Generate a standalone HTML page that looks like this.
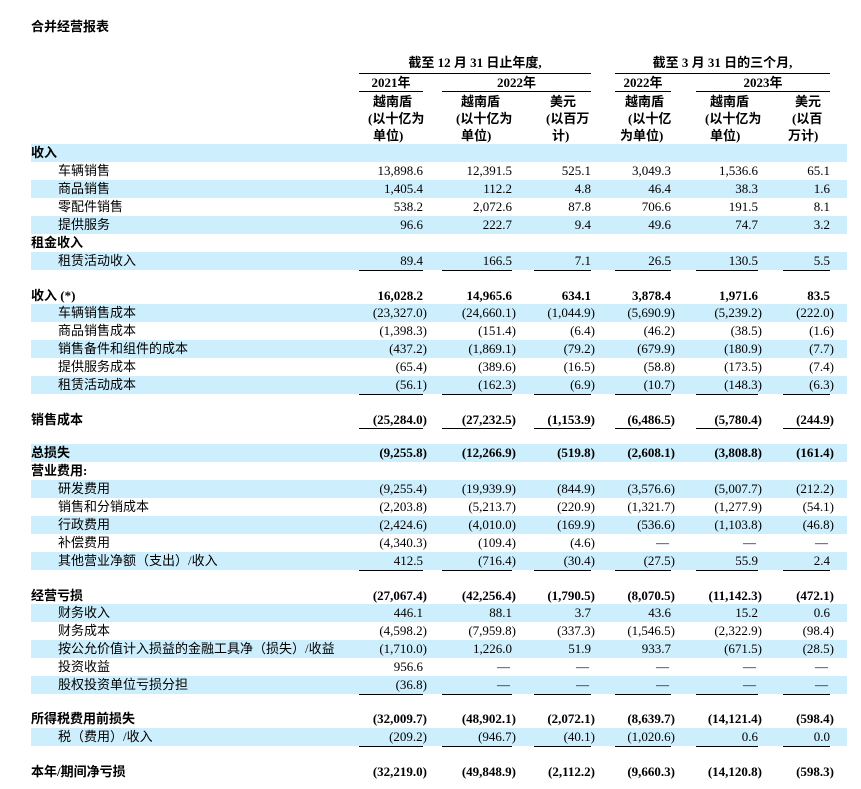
<!DOCTYPE html>
<html><head><meta charset="utf-8"><style>
body{margin:0;width:861px;height:789px;background:#fff;position:relative;overflow:hidden;font-family:"Liberation Serif","Noto Sans CJK SC",serif;font-size:13px;color:#000}
.t{position:absolute;white-space:nowrap}
.r{position:absolute;left:31px;width:816px;height:18px;line-height:18px;white-space:nowrap}
.b{background:#cdeefc}
.r span{position:absolute;top:0}
.l{left:0}.s{left:27px}
.c1{right:424px}.c2{right:335px}.c3{right:256px}.c4{right:176px}.c5{right:89px}.c6{right:17px}
.n{margin-right:-4px}
.d{margin-right:2px}
.bold{font-weight:bold}
.ln{position:absolute;height:1px;background:#000}
.h{position:absolute;font-weight:bold;white-space:nowrap;font-size:13px;line-height:17px}
</style></head><body>
<div class="t bold" style="left:31px;top:16px;font-size:13px">合并经营报表</div>

<div class="h" style="left:359px;width:232px;text-align:center;top:54px">截至 12 月 31 日止年度,</div>
<div class="h" style="left:615px;width:215px;text-align:center;top:54px">截至 3 月 31 日的三个月,</div>
<div class="ln" style="left:359px;width:232px;top:73px"></div>
<div class="ln" style="left:615px;width:215px;top:73px"></div>
<div class="h" style="left:359px;width:64px;text-align:center;top:74px">2021年</div>
<div class="h" style="left:442px;width:149px;text-align:center;top:74px">2022年</div>
<div class="h" style="left:615px;width:56px;text-align:center;top:74px">2022年</div>
<div class="h" style="left:696px;width:134px;text-align:center;top:74px">2023年</div>
<div class="ln" style="left:359px;width:64px;top:91px"></div>
<div class="ln" style="left:442px;width:149px;top:91px"></div>
<div class="ln" style="left:615px;width:56px;top:91px"></div>
<div class="ln" style="left:696px;width:134px;top:91px"></div>

<div class="h" style="left:373px;top:93px">越南盾</div>
<div class="h" style="left:368px;top:110px">(以十亿为</div>
<div class="h" style="left:373px;top:127px">单位)</div>
<div class="h" style="left:461px;top:93px">越南盾</div>
<div class="h" style="left:456px;top:110px">(以十亿为</div>
<div class="h" style="left:461px;top:127px">单位)</div>
<div class="h" style="left:550px;top:93px">美元</div>
<div class="h" style="left:546px;top:110px">(以百万</div>
<div class="h" style="left:552px;top:127px">计)</div>
<div class="h" style="left:625px;top:93px">越南盾</div>
<div class="h" style="left:628px;top:110px">(以十亿</div>
<div class="h" style="left:620px;top:127px">为单位)</div>
<div class="h" style="left:710px;top:93px">越南盾</div>
<div class="h" style="left:705px;top:110px">(以十亿为</div>
<div class="h" style="left:710px;top:127px">单位)</div>
<div class="h" style="left:795px;top:93px">美元</div>
<div class="h" style="left:792px;top:110px">(以百</div>
<div class="h" style="left:788px;top:127px">万计)</div>

<div class="r b" style="top:144px"><span class="l bold">收入</span></div>
<div class="r" style="top:162px"><span class="s">车辆销售</span><span class="c1">13,898.6</span><span class="c2">12,391.5</span><span class="c3">525.1</span><span class="c4">3,049.3</span><span class="c5">1,536.6</span><span class="c6">65.1</span></div>
<div class="r b" style="top:180px"><span class="s">商品销售</span><span class="c1">1,405.4</span><span class="c2">112.2</span><span class="c3">4.8</span><span class="c4">46.4</span><span class="c5">38.3</span><span class="c6">1.6</span></div>
<div class="r" style="top:198px"><span class="s">零配件销售</span><span class="c1">538.2</span><span class="c2">2,072.6</span><span class="c3">87.8</span><span class="c4">706.6</span><span class="c5">191.5</span><span class="c6">8.1</span></div>
<div class="r b" style="top:216px"><span class="s">提供服务</span><span class="c1">96.6</span><span class="c2">222.7</span><span class="c3">9.4</span><span class="c4">49.6</span><span class="c5">74.7</span><span class="c6">3.2</span></div>
<div class="r" style="top:234px"><span class="l bold">租金收入</span></div>
<div class="r b" style="top:252px"><span class="s">租赁活动收入</span><span class="c1">89.4</span><span class="c2">166.5</span><span class="c3">7.1</span><span class="c4">26.5</span><span class="c5">130.5</span><span class="c6">5.5</span></div>
<div class="ln" style="left:359px;width:64px;top:270px"></div><div class="ln" style="left:442px;width:70px;top:270px"></div><div class="ln" style="left:534px;width:57px;top:270px"></div><div class="ln" style="left:615px;width:56px;top:270px"></div><div class="ln" style="left:696px;width:62px;top:270px"></div><div class="ln" style="left:783px;width:47px;top:270px"></div>

<div class="r bold" style="top:287px"><span class="l">收入 (*)</span><span class="c1">16,028.2</span><span class="c2">14,965.6</span><span class="c3">634.1</span><span class="c4">3,878.4</span><span class="c5">1,971.6</span><span class="c6">83.5</span></div>
<div class="r b" style="top:304px"><span class="s">车辆销售成本</span><span class="c1 n">(23,327.0)</span><span class="c2 n">(24,660.1)</span><span class="c3 n">(1,044.9)</span><span class="c4 n">(5,690.9)</span><span class="c5 n">(5,239.2)</span><span class="c6 n">(222.0)</span></div>
<div class="r" style="top:322px"><span class="s">商品销售成本</span><span class="c1 n">(1,398.3)</span><span class="c2 n">(151.4)</span><span class="c3 n">(6.4)</span><span class="c4 n">(46.2)</span><span class="c5 n">(38.5)</span><span class="c6 n">(1.6)</span></div>
<div class="r b" style="top:340px"><span class="s">销售备件和组件的成本</span><span class="c1 n">(437.2)</span><span class="c2 n">(1,869.1)</span><span class="c3 n">(79.2)</span><span class="c4 n">(679.9)</span><span class="c5 n">(180.9)</span><span class="c6 n">(7.7)</span></div>
<div class="r" style="top:358px"><span class="s">提供服务成本</span><span class="c1 n">(65.4)</span><span class="c2 n">(389.6)</span><span class="c3 n">(16.5)</span><span class="c4 n">(58.8)</span><span class="c5 n">(173.5)</span><span class="c6 n">(7.4)</span></div>
<div class="r b" style="top:376px"><span class="s">租赁活动成本</span><span class="c1 n">(56.1)</span><span class="c2 n">(162.3)</span><span class="c3 n">(6.9)</span><span class="c4 n">(10.7)</span><span class="c5 n">(148.3)</span><span class="c6 n">(6.3)</span></div>
<div class="ln" style="left:359px;width:64px;top:394px"></div><div class="ln" style="left:442px;width:70px;top:394px"></div><div class="ln" style="left:534px;width:57px;top:394px"></div><div class="ln" style="left:615px;width:56px;top:394px"></div><div class="ln" style="left:696px;width:62px;top:394px"></div><div class="ln" style="left:783px;width:47px;top:394px"></div>

<div class="r bold" style="top:411px"><span class="l">销售成本</span><span class="c1 n">(25,284.0)</span><span class="c2 n">(27,232.5)</span><span class="c3 n">(1,153.9)</span><span class="c4 n">(6,486.5)</span><span class="c5 n">(5,780.4)</span><span class="c6 n">(244.9)</span></div>
<div class="ln" style="left:359px;width:64px;top:428px"></div><div class="ln" style="left:442px;width:70px;top:428px"></div><div class="ln" style="left:534px;width:57px;top:428px"></div><div class="ln" style="left:615px;width:56px;top:428px"></div><div class="ln" style="left:696px;width:62px;top:428px"></div><div class="ln" style="left:783px;width:47px;top:428px"></div>

<div class="r b bold" style="top:444px"><span class="l">总损失</span><span class="c1 n">(9,255.8)</span><span class="c2 n">(12,266.9)</span><span class="c3 n">(519.8)</span><span class="c4 n">(2,608.1)</span><span class="c5 n">(3,808.8)</span><span class="c6 n">(161.4)</span></div>
<div class="r" style="top:462px"><span class="l bold">营业费用:</span></div>
<div class="r b" style="top:480px"><span class="s">研发费用</span><span class="c1 n">(9,255.4)</span><span class="c2 n">(19,939.9)</span><span class="c3 n">(844.9)</span><span class="c4 n">(3,576.6)</span><span class="c5 n">(5,007.7)</span><span class="c6 n">(212.2)</span></div>
<div class="r" style="top:498px"><span class="s">销售和分销成本</span><span class="c1 n">(2,203.8)</span><span class="c2 n">(5,213.7)</span><span class="c3 n">(220.9)</span><span class="c4 n">(1,321.7)</span><span class="c5 n">(1,277.9)</span><span class="c6 n">(54.1)</span></div>
<div class="r b" style="top:516px"><span class="s">行政费用</span><span class="c1 n">(2,424.6)</span><span class="c2 n">(4,010.0)</span><span class="c3 n">(169.9)</span><span class="c4 n">(536.6)</span><span class="c5 n">(1,103.8)</span><span class="c6 n">(46.8)</span></div>
<div class="r" style="top:534px"><span class="s">补偿费用</span><span class="c1 n">(4,340.3)</span><span class="c2 n">(109.4)</span><span class="c3 n">(4.6)</span><span class="c4 d">—</span><span class="c5 d">—</span><span class="c6 d">—</span></div>
<div class="r b" style="top:552px"><span class="s">其他营业净额（支出）/收入</span><span class="c1">412.5</span><span class="c2 n">(716.4)</span><span class="c3 n">(30.4)</span><span class="c4 n">(27.5)</span><span class="c5">55.9</span><span class="c6">2.4</span></div>
<div class="ln" style="left:359px;width:64px;top:570px"></div><div class="ln" style="left:442px;width:70px;top:570px"></div><div class="ln" style="left:534px;width:57px;top:570px"></div><div class="ln" style="left:615px;width:56px;top:570px"></div><div class="ln" style="left:696px;width:62px;top:570px"></div><div class="ln" style="left:783px;width:47px;top:570px"></div>

<div class="r bold" style="top:587px"><span class="l">经营亏损</span><span class="c1 n">(27,067.4)</span><span class="c2 n">(42,256.4)</span><span class="c3 n">(1,790.5)</span><span class="c4 n">(8,070.5)</span><span class="c5 n">(11,142.3)</span><span class="c6 n">(472.1)</span></div>
<div class="r b" style="top:604px"><span class="s">财务收入</span><span class="c1">446.1</span><span class="c2">88.1</span><span class="c3">3.7</span><span class="c4">43.6</span><span class="c5">15.2</span><span class="c6">0.6</span></div>
<div class="r" style="top:622px"><span class="s">财务成本</span><span class="c1 n">(4,598.2)</span><span class="c2 n">(7,959.8)</span><span class="c3 n">(337.3)</span><span class="c4 n">(1,546.5)</span><span class="c5 n">(2,322.9)</span><span class="c6 n">(98.4)</span></div>
<div class="r b" style="top:640px"><span class="s">按公允价值计入损益的金融工具净（损失）/收益</span><span class="c1 n">(1,710.0)</span><span class="c2">1,226.0</span><span class="c3">51.9</span><span class="c4">933.7</span><span class="c5 n">(671.5)</span><span class="c6 n">(28.5)</span></div>
<div class="r" style="top:658px"><span class="s">投资收益</span><span class="c1">956.6</span><span class="c2 d">—</span><span class="c3 d">—</span><span class="c4 d">—</span><span class="c5 d">—</span><span class="c6 d">—</span></div>
<div class="r b" style="top:676px"><span class="s">股权投资单位亏损分担</span><span class="c1 n">(36.8)</span><span class="c2 d">—</span><span class="c3 d">—</span><span class="c4 d">—</span><span class="c5 d">—</span><span class="c6 d">—</span></div>
<div class="ln" style="left:359px;width:64px;top:694px"></div><div class="ln" style="left:442px;width:70px;top:694px"></div><div class="ln" style="left:534px;width:57px;top:694px"></div><div class="ln" style="left:615px;width:56px;top:694px"></div><div class="ln" style="left:696px;width:62px;top:694px"></div><div class="ln" style="left:783px;width:47px;top:694px"></div>

<div class="r bold" style="top:710px"><span class="l">所得税费用前损失</span><span class="c1 n">(32,009.7)</span><span class="c2 n">(48,902.1)</span><span class="c3 n">(2,072.1)</span><span class="c4 n">(8,639.7)</span><span class="c5 n">(14,121.4)</span><span class="c6 n">(598.4)</span></div>
<div class="r b" style="top:728px"><span class="s">税（费用）/收入</span><span class="c1 n">(209.2)</span><span class="c2 n">(946.7)</span><span class="c3 n">(40.1)</span><span class="c4 n">(1,020.6)</span><span class="c5">0.6</span><span class="c6">0.0</span></div>
<div class="ln" style="left:359px;width:64px;top:746px"></div><div class="ln" style="left:442px;width:70px;top:746px"></div><div class="ln" style="left:534px;width:57px;top:746px"></div><div class="ln" style="left:615px;width:56px;top:746px"></div><div class="ln" style="left:696px;width:62px;top:746px"></div><div class="ln" style="left:783px;width:47px;top:746px"></div>

<div class="r bold" style="top:763px"><span class="l">本年/期间净亏损</span><span class="c1 n">(32,219.0)</span><span class="c2 n">(49,848.9)</span><span class="c3 n">(2,112.2)</span><span class="c4 n">(9,660.3)</span><span class="c5 n">(14,120.8)</span><span class="c6 n">(598.3)</span></div>
</body></html>
